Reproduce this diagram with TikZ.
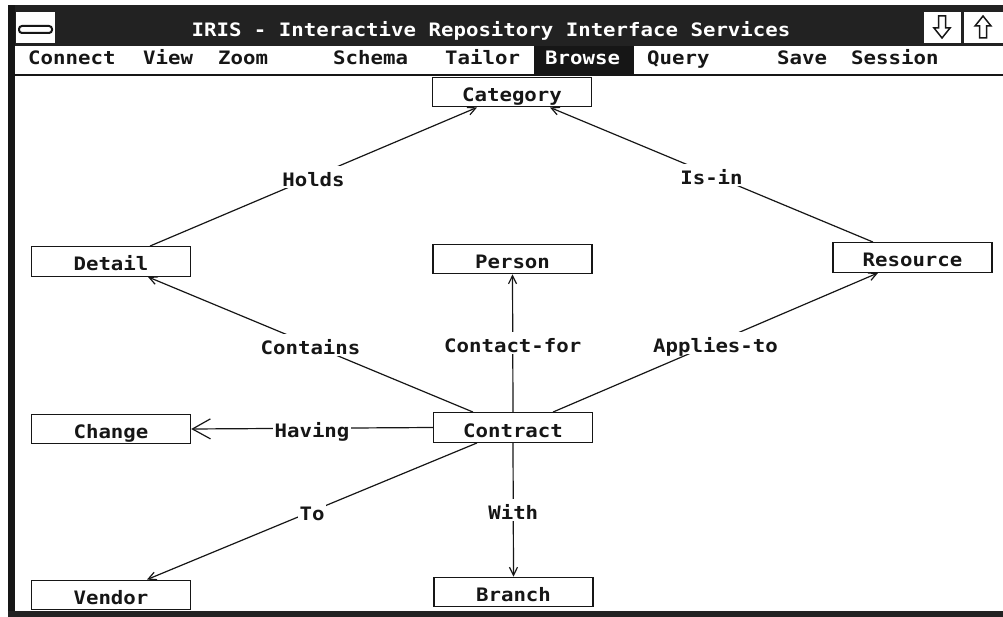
\documentclass[tikz,border=0pt]{standalone}
\usepackage{fontspec}
\usetikzlibrary{arrows.meta,calc}
\newfontfamily\scrfont{DejaVu Sans Mono}[FakeStretch=1.12]
\definecolor{ink}{HTML}{161616}
\definecolor{barc}{HTML}{222222}
\newcommand{\scrtext}{\scrfont\bfseries\fontsize{18.5}{20}\selectfont}
\begin{document}
\begin{tikzpicture}[x=1pt,y=-1pt,
  ent/.style={draw=ink, line width=1.4pt, fill=white, minimum width=159pt,
    minimum height=29.5pt, inner sep=0pt, text height=19pt, text depth=0pt,
    font=\scrtext, text=ink},
  rel/.style={fill=white, inner sep=1.5pt, text height=19pt, text depth=0pt,
    font=\scrtext, text=ink},
  conn/.style={draw=ink, line width=1.2pt,
    -{Straight Barb[length=8pt,width=8pt]}},
  bigconn/.style={draw=ink, line width=1.2pt,
    -{Straight Barb[length=18pt,width=20pt]}},
  menuitem/.style={anchor=base west, inner sep=0pt, font=\scrtext, text=ink},
]
\useasboundingbox (0,0) rectangle (1003,617);
\fill[white] (0,0) rectangle (1003,617);

% window frame
\fill[barc] (8,5) rectangle (1003,46);
\fill[ink] (8,5) rectangle (15,617);
\fill[white] (15,46) rectangle (1003,74);
\fill[ink] (8,74) rectangle (1003,76.5);
\fill[barc] (8,611) rectangle (1003,617);

% system menu box
\fill[white] (16,12) rectangle (55,43);
\draw[ink, line width=2pt, fill=white, rounded corners=3pt] (19,26) rectangle (52,33);

% title
\node[anchor=base, inner sep=0pt, font=\scrtext, text=white] (title) at (491,37)
  {IRIS - Interactive Repository Interface Services};

% scroll arrow boxes
\fill[white] (924,12) rectangle (961,43);
\fill[white] (964,12) rectangle (1003,43);
\draw[ink, line width=1.5pt, line join=miter]
  (938.5,16) -- (945.5,16) -- (945.5,28) -- (950,28) -- (942,38) -- (934,28) -- (938.5,28) -- cycle;
\draw[ink, line width=1.5pt, line join=miter]
  (979.5,38) -- (986.5,38) -- (986.5,26) -- (991,26) -- (983,16) -- (975,26) -- (979.5,26) -- cycle;

% menu bar
\fill[ink] (534,46) rectangle (634,74);
\node[menuitem] (mconnect) at (28,65) {Connect};
\node[menuitem] (mview) at (143,65) {View};
\node[menuitem] (mzoom) at (218,65) {Zoom};
\node[menuitem] (mschema) at (333,65) {Schema};
\node[menuitem] (mtailor) at (445,65) {Tailor};
\node[menuitem, text=white] (mbrowse) at (545,65) {Browse};
\node[menuitem] (mquery) at (647,65) {Query};
\node[menuitem] (msave) at (777,65) {Save};
\node[menuitem] (msession) at (851,65) {Session};

% entities
\node[ent] (category) at (512,92) {Category};
\node[ent] (detail) at (111,261.5) {Detail};
\node[ent] (person) at (512.5,259) {Person};
\node[ent] (resource) at (912.5,257.5) {Resource};
\node[ent] (change) at (111,429) {Change};
\node[ent] (contract) at (513,427.5) {Contract};
\node[ent] (vendor) at (111,595) {Vendor};
\node[ent] (branch) at (513.5,592) {Branch};

% relationships
\draw[conn] ($(detail.north)+(39,0)$) -- node[rel] (holds) {Holds} ($(category.south)+(-35,0)$);
\draw[conn] ($(resource.north)+(-39.5,0)$) -- node[rel] (isin) {Is-in} ($(category.south)+(38,0)$);
\draw[conn] ($(contract.north)+(-40,0)$) -- node[rel] (contains) {Contains} ($(detail.south)+(37,0)$);
\draw[conn] (contract.north) -- node[rel] (contactfor) {Contact-for} (person.south);
\draw[conn] ($(contract.north)+(40,0)$) -- node[rel] (appliesto) {Applies-to} ($(resource.south)+(-34.5,0)$);
\draw[bigconn] (contract.west) -- node[rel] (having) {Having} (change.east);
\draw[conn] ($(contract.south)+(-36,0)$) -- node[rel] (to) {To} ($(vendor.north)+(36,0)$);
\draw[conn] (contract.south) -- node[rel] (with) {With} (branch.north);
\end{tikzpicture}
\end{document}
